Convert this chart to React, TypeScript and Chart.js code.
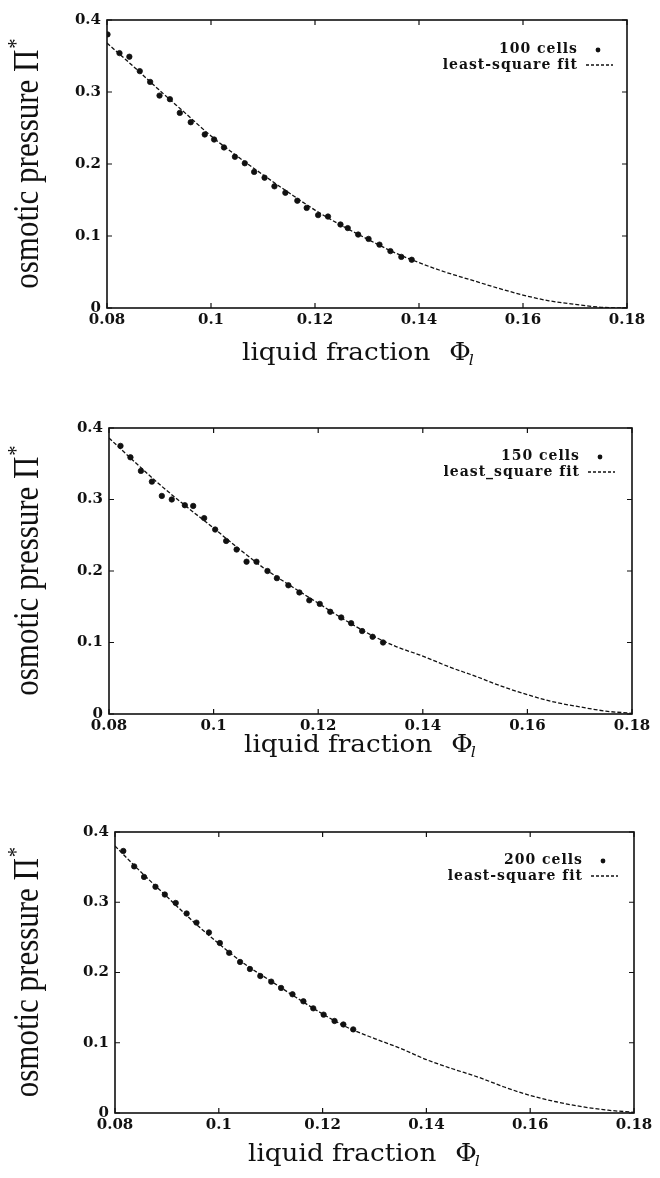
import React, { useEffect, useRef } from 'react';
import { Chart, registerables } from 'chart.js';

Chart.register(...registerables);

// ---------------- data ----------------
const xTicks = [0.08, 0.1, 0.12, 0.14, 0.16, 0.18];
const yTicks = [0, 0.1, 0.2, 0.3, 0.4];

const fitX = [0.08, 0.085, 0.09, 0.095, 0.1, 0.105, 0.11, 0.115, 0.12, 0.125, 0.13, 0.135, 0.14, 0.145, 0.15, 0.155, 0.16, 0.165, 0.17, 0.175, 0.18];

const cells100X = [0.0801, 0.0824, 0.0843, 0.0863, 0.0883, 0.0901, 0.0921, 0.094, 0.0961, 0.0988, 0.1006, 0.1025, 0.1046, 0.1065, 0.1083, 0.1103, 0.1122, 0.1143, 0.1166, 0.1184, 0.1206, 0.1225, 0.1249, 0.1263, 0.1283, 0.1303, 0.1324, 0.1345, 0.1366, 0.1386];
const cells100Y = [0.38, 0.354, 0.349, 0.329, 0.314, 0.295, 0.29, 0.271, 0.258, 0.241, 0.234, 0.223, 0.21, 0.201, 0.189, 0.181, 0.169, 0.16, 0.149, 0.139, 0.129, 0.127, 0.116, 0.111, 0.102, 0.096, 0.088, 0.079, 0.071, 0.067];
const fit100Y = [0.368, 0.336, 0.303, 0.271, 0.239, 0.211, 0.185, 0.16, 0.136, 0.115, 0.096, 0.078, 0.063, 0.05, 0.039, 0.028, 0.018, 0.01, 0.005, 0.001, 0.0];

const cells150X = [0.0822, 0.0841, 0.0861, 0.0882, 0.0901, 0.092, 0.0945, 0.0961, 0.0982, 0.1003, 0.1024, 0.1044, 0.1063, 0.1082, 0.1103, 0.1121, 0.1143, 0.1164, 0.1183, 0.1203, 0.1223, 0.1244, 0.1263, 0.1284, 0.1304, 0.1324];
const cells150Y = [0.375, 0.359, 0.34, 0.325, 0.305, 0.3, 0.292, 0.291, 0.274, 0.258, 0.242, 0.23, 0.213, 0.213, 0.2, 0.19, 0.18, 0.17, 0.159, 0.154, 0.143, 0.135, 0.127, 0.116, 0.108, 0.1];
const fit150Y = [0.386, 0.352, 0.319, 0.289, 0.26, 0.23, 0.202, 0.178, 0.155, 0.132, 0.111, 0.094, 0.081, 0.066, 0.053, 0.039, 0.027, 0.017, 0.01, 0.004, 0.001];

const cells200X = [0.0816, 0.0837, 0.0856, 0.0878, 0.0896, 0.0917, 0.0938, 0.0957, 0.0981, 0.1002, 0.102, 0.1041, 0.106, 0.108, 0.1101, 0.112, 0.1142, 0.1163, 0.1182, 0.1202, 0.1223, 0.124, 0.1259];
const cells200Y = [0.373, 0.351, 0.336, 0.322, 0.311, 0.299, 0.284, 0.271, 0.257, 0.242, 0.228, 0.215, 0.205, 0.195, 0.187, 0.178, 0.169, 0.159, 0.149, 0.14, 0.131, 0.126, 0.119];
const fit200Y = [0.38, 0.343, 0.308, 0.273, 0.241, 0.212, 0.188, 0.164, 0.141, 0.121, 0.106, 0.092, 0.076, 0.063, 0.051, 0.037, 0.025, 0.016, 0.009, 0.004, 0.001];

const yTitle = 'osmotic pressure Π';
const xTitle = 'liquid fraction';

// ---------------- layout ----------------
const INK = '#111111';

type PanelCfg = {
  height: number;
  area: { left: number; right: number; top: number; bottom: number };
  xs: number[];
  ys: number[];
  fit: number[];
  cellsLabel: string;
  fitLabel: string;
  legendRight: number;
  legendBase1: number;
  legendBase2: number;
  titleX: number;
  titleBase: number;
};

const panels: PanelCfg[] = [
  { height: 380, area: { left: 107, right: 627, top: 20, bottom: 308 }, xs: cells100X, ys: cells100Y, fit: fit100Y, cellsLabel: '100 cells', fitLabel: 'least-square fit', legendRight: 578, legendBase1: 53, legendBase2: 69, titleX: 242, titleBase: 360 },
  { height: 400, area: { left: 109, right: 632, top: 48, bottom: 334 }, xs: cells150X, ys: cells150Y, fit: fit150Y, cellsLabel: '150 cells', fitLabel: 'least_square fit', legendRight: 580, legendBase1: 80, legendBase2: 96, titleX: 244, titleBase: 372 },
  { height: 398, area: { left: 115, right: 634, top: 52, bottom: 333 }, xs: cells200X, ys: cells200Y, fit: fit200Y, cellsLabel: '200 cells', fitLabel: 'least-square fit', legendRight: 583, legendBase1: 84, legendBase2: 100, titleX: 248, titleBase: 381 },
];

const fmt = (v: number) => String(parseFloat(Number(v).toFixed(2)));

function makeDecor(cfg: PanelCfg) {
  return {
    id: 'decor',
    afterDatasetsDraw(chart: any) {
      const { ctx, chartArea: a, scales } = chart;
      const x = scales.x;
      const y = scales.y;
      ctx.save();
      // frame
      ctx.strokeStyle = INK;
      ctx.lineWidth = 1.6;
      ctx.setLineDash([]);
      ctx.strokeRect(a.left, a.top, a.right - a.left, a.bottom - a.top);
      // inward ticks
      ctx.lineWidth = 1.2;
      ctx.beginPath();
      for (const v of xTicks) {
        const px = x.getPixelForValue(v);
        ctx.moveTo(px, a.bottom); ctx.lineTo(px, a.bottom - 5);
        ctx.moveTo(px, a.top); ctx.lineTo(px, a.top + 5);
      }
      for (const v of yTicks) {
        const py = y.getPixelForValue(v);
        ctx.moveTo(a.left, py); ctx.lineTo(a.left + 5, py);
        ctx.moveTo(a.right, py); ctx.lineTo(a.right - 5, py);
      }
      ctx.stroke();

      // legend
      ctx.fillStyle = INK;
      ctx.font = 'bold 14px "DejaVu Serif"';
      (ctx as any).letterSpacing = '1px';
      ctx.textAlign = 'right';
      ctx.textBaseline = 'alphabetic';
      ctx.fillText(cfg.cellsLabel, cfg.legendRight, cfg.legendBase1);
      ctx.fillText(cfg.fitLabel, cfg.legendRight, cfg.legendBase2);
      (ctx as any).letterSpacing = '0px';
      ctx.beginPath();
      ctx.arc(cfg.legendRight + 20, cfg.legendBase1 - 3, 2.4, 0, Math.PI * 2);
      ctx.fill();
      ctx.lineWidth = 1.3;
      ctx.setLineDash([3, 2]);
      ctx.beginPath();
      ctx.moveTo(cfg.legendRight + 8, cfg.legendBase2 - 4);
      ctx.lineTo(cfg.legendRight + 35, cfg.legendBase2 - 4);
      ctx.stroke();
      ctx.setLineDash([]);

      // y title (condensed, rotated)
      const cy = (a.top + a.bottom) / 2;
      ctx.save();
      ctx.translate(38, cy);
      ctx.rotate(-Math.PI / 2);
      const sx = 0.86;
      ctx.font = '36px "Liberation Serif"';
      const wMain = ctx.measureText(yTitle).width * sx;
      ctx.font = '24px "Liberation Serif"';
      const wStar = ctx.measureText('*').width * sx;
      const start = -(wMain + wStar) / 2;
      ctx.scale(sx, 1);
      ctx.textAlign = 'left';
      ctx.font = '36px "Liberation Serif"';
      ctx.fillText(yTitle, start / sx, 0);
      ctx.font = '24px "Liberation Serif"';
      ctx.fillText('*', (start + wMain) / sx + 1, -15);
      ctx.restore();

      // x title (wide serif)
      ctx.save();
      ctx.translate(cfg.titleX, cfg.titleBase);
      const ws = 1.05;
      ctx.scale(ws, 1);
      ctx.textAlign = 'left';
      ctx.font = '25px "DejaVu Serif"';
      const w1 = ctx.measureText(xTitle).width;
      const phiX = w1 + 18;
      ctx.fillText(xTitle, 0, 0);
      ctx.fillText('Φ', phiX, 0);
      const wPhi = ctx.measureText('Φ').width;
      ctx.font = 'italic 15px "DejaVu Serif"';
      ctx.fillText('l', phiX + wPhi - 2, 5);
      ctx.restore();

      ctx.restore();
    },
  };
}

function Panel({ cfg }: { cfg: PanelCfg }) {
  const ref = useRef<HTMLCanvasElement | null>(null);
  useEffect(() => {
    if (!ref.current) return;
    const a = cfg.area;
    const tickFont = { family: '"DejaVu Serif"', size: 15, weight: 'bold' as const };
    const chart = new Chart(ref.current, {
      type: 'scatter',
      data: {
        datasets: [
          {
            label: cfg.fitLabel,
            data: fitX.map((x, i) => ({ x, y: cfg.fit[i] })),
            showLine: true,
            borderColor: INK,
            borderWidth: 1.3,
            borderDash: [4, 2],
            pointRadius: 0,
            cubicInterpolationMode: 'monotone',
            fill: false,
          } as any,
          {
            label: cfg.cellsLabel,
            data: cfg.xs.map((x, i) => ({ x, y: cfg.ys[i] })),
            showLine: false,
            pointRadius: 2.7,
            pointStyle: 'circle',
            backgroundColor: INK,
            borderColor: INK,
            borderWidth: 0.8,
          },
        ],
      },
      options: {
        animation: false,
        responsive: false,
        maintainAspectRatio: false,
        layout: { padding: { left: 0, right: 660 - a.right, top: a.top, bottom: 0 } },
        plugins: { legend: { display: false }, tooltip: { enabled: false }, title: { display: false } },
        scales: {
          x: {
            type: 'linear',
            min: 0.08,
            max: 0.18,
            afterBuildTicks: (s: any) => { s.ticks = xTicks.map((v) => ({ value: v })); },
            afterFit: (s: any) => { s.height = cfg.height - a.bottom; },
            grid: { display: false, drawTicks: false },
            border: { display: false },
            ticks: { color: INK, font: tickFont, padding: 3, maxRotation: 0, autoSkip: false, callback: (v: any) => fmt(v) },
          },
          y: {
            type: 'linear',
            min: 0,
            max: 0.4,
            afterBuildTicks: (s: any) => { s.ticks = yTicks.map((v) => ({ value: v })); },
            afterFit: (s: any) => { s.width = a.left; },
            grid: { display: false, drawTicks: false },
            border: { display: false },
            ticks: { color: INK, font: tickFont, padding: 6, autoSkip: false, callback: (v: any) => fmt(v) },
          },
        },
      },
      plugins: [makeDecor(cfg)],
    });
    return () => chart.destroy();
  }, [cfg]);
  return <canvas ref={ref} width={660} height={cfg.height} style={{ display: 'block', width: 660, height: cfg.height }} />;
}

export default function App() {
  return (
    <div style={{ position: 'absolute', left: 0, top: 0, width: 660, height: 1178, background: '#ffffff', overflow: 'hidden' }}>
      {panels.map((p, i) => (
        <Panel key={i} cfg={p} />
      ))}
    </div>
  );
}
